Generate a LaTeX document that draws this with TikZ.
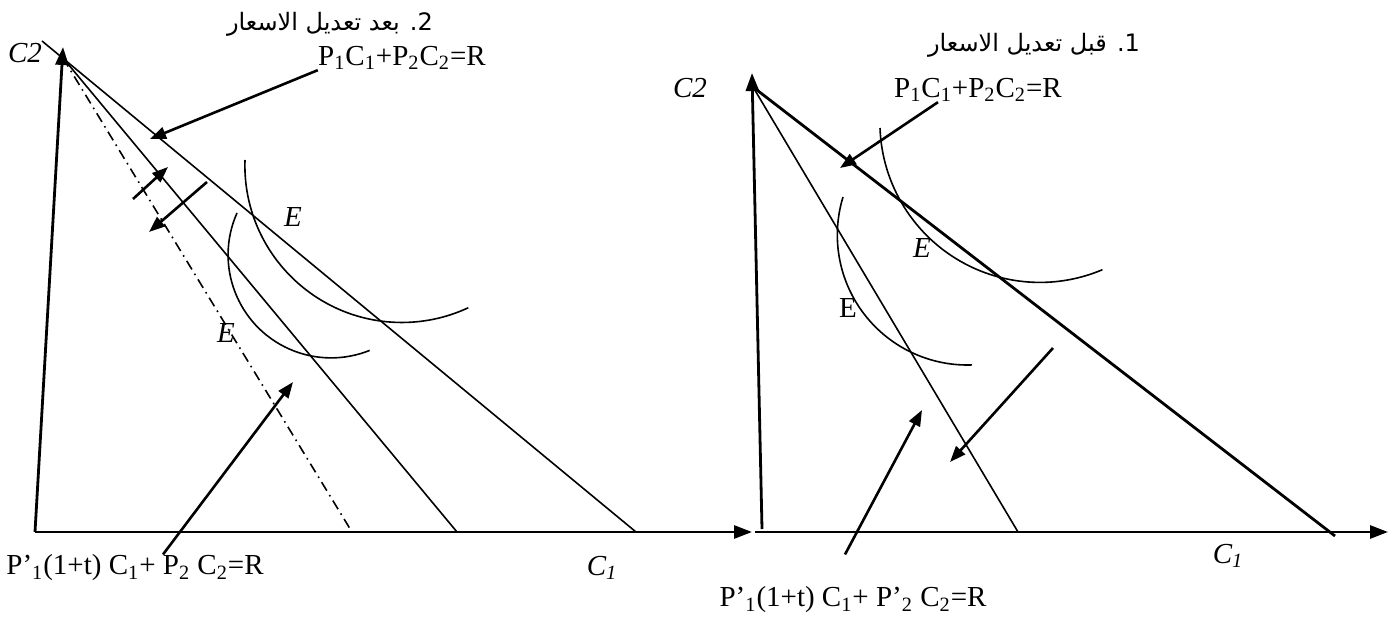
\documentclass[tikz,border=0pt]{standalone}
\usepackage{fontspec}
\setmainfont{Liberation Serif}
\newfontfamily\arabicfont[Script=Arabic]{DejaVu Sans}
\TeXXeTstate=1
\usetikzlibrary{arrows.meta}

\begin{document}
\begin{tikzpicture}[x=0.5pt,y=-0.5pt,
  axis/.style={line width=1.4pt,-{Triangle[length=9pt,width=6.5pt]}},
  budget/.style={line width=0.8pt},
  pointer/.style={line width=1.3pt,-{Triangle[length=8pt,width=6pt]}},
  curve/.style={line width=0.8pt},
  lbl/.style={font=\fontsize{14.5}{17}\selectfont,inner sep=0pt},
  title/.style={font=\arabicfont\fontsize{12}{15}\selectfont,inner sep=0pt}]
  \useasboundingbox (0,0) rectangle (1396,619);
  % 2. after the price change
  \begin{scope}
    \coordinate (oL) at (35,532);
    \coordinate (aL) at (63,58);
    \draw[axis] (oL) -- (63,47);
    \draw[axis] (oL) -- (752,532);
    \draw[budget] (42,41) -- (636,532);
    \draw[budget] (aL) -- (457,532);
    \draw[budget,dash pattern=on 5pt off 2.5pt on 0.8pt off 2.5pt] (aL) -- (352,532);
    \draw[curve] (245,160) arc[start angle=182,end angle=65,radius=157];
    \draw[curve] (237,213) arc[start angle=204,end angle=68,radius=103];
    \node[lbl] (c2L) at (25,53) {\textit{C2}};
    \node[lbl] (c1L) at (602,568) {\textit{C\textsubscript{1}}};
    \node[lbl] (eL1) at (293,217) {\textit{E}};
    \node[lbl] (eL2) at (226,333) {\textit{E}};
    \node[title] (t2) at (330,24) {\beginR 2. بعد تعديل الاسعار\endR};
    \node[lbl] (bL) at (402,58) {P\textsubscript{1}C\textsubscript{1}+P\textsubscript{2}C\textsubscript{2}=R};
    \node[lbl] (pL) at (135,568) {P’\textsubscript{1}(1+t) C\textsubscript{1}+ P\textsubscript{2} C\textsubscript{2}=R};
    \draw[pointer] (bL.south west) -- (150,139);
    \draw[pointer] ([xshift=14pt]pL.north) -- (293,382);
    \draw[pointer] (133,199) -- (168,167);
    \draw[pointer] (207,182) -- (149,232);
  \end{scope}
  % 1. before the price change
  \begin{scope}
    \coordinate (aR) at (753,87);
    \draw[axis] (762,529) -- (752,73);
    \draw[axis] (755,532) -- (1388,532);
    \draw[budget,line width=1.4pt] (aR) -- (1335,536);
    \draw[budget] (aR) -- (1018,532);
    \draw[curve] (880,128) arc[start angle=178,end angle=67,radius=160];
    \draw[curve] (843,197) arc[start angle=197,end angle=88,radius=130];
    \node[lbl] (c2R) at (690,88) {\textit{C2}};
    \node[lbl] (c1R) at (1228,556) {\textit{C\textsubscript{1}}};
    \node[lbl] (eR1) at (922,248) {\textit{E}};
    \node[lbl] (eR2) at (848,308) {E};
    \node[title] (t1) at (1034,45) {\beginR 1. قبل تعديل الاسعار\endR};
    \node[lbl] (bR) at (978,90) {P\textsubscript{1}C\textsubscript{1}+P\textsubscript{2}C\textsubscript{2}=R};
    \node[lbl] (pR) at (853,600) {P’\textsubscript{1}(1+t) C\textsubscript{1}+ P’\textsubscript{2} C\textsubscript{2}=R};
    \draw[pointer] ([xshift=-20pt]bR.south) -- (840,168);
    \draw[pointer] ([shift={(-4pt,16pt)}]pR.north) -- (922,410);
    \draw[pointer] (1053,348) -- (950,462);
  \end{scope}
\end{tikzpicture}
\end{document}
